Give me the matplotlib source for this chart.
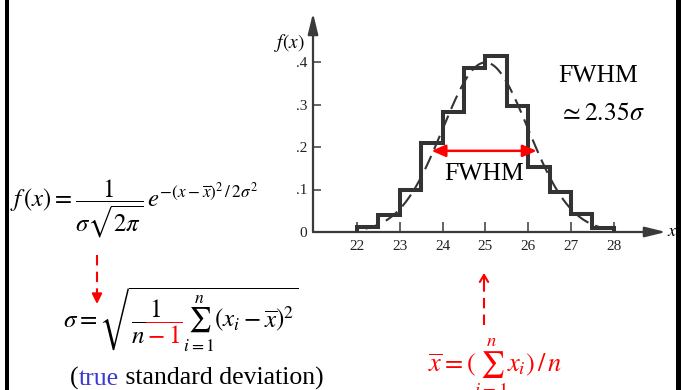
import numpy as np
import matplotlib
matplotlib.use("Agg")
import matplotlib.pyplot as plt
from matplotlib.patches import Rectangle
from matplotlib.lines import Line2D
from matplotlib.text import Annotation
from matplotlib.transforms import IdentityTransform

plt.rcParams['font.family'] = ['Liberation Serif', 'DejaVu Serif']
plt.rcParams['mathtext.fontset'] = 'stix'

# ---- data ----
bin_edges = [22.0, 22.5, 23.0, 23.5, 24.0, 24.5, 25.0, 25.5, 26.0, 26.5, 27.0, 27.5, 28.0]
bin_heights = [0.012, 0.04, 0.10, 0.21, 0.283, 0.385, 0.413, 0.297, 0.152, 0.095, 0.042, 0.01]
gauss_mean = 25.0
gauss_sigma = 1.0
gauss_range = (22.2, 27.8)
x_ticks = [22, 23, 24, 25, 26, 27, 28]
y_ticks = [0, 0.1, 0.2, 0.3, 0.4]
y_tick_labels = ['0', '.1', '.2', '.3', '.4']
fwhm_span = (23.74, 26.2)
fwhm_level = 0.191

W, H = 681, 390
fig = plt.figure(figsize=(W / 100, H / 100), dpi=100)


def P(px, py):
    return px / W, 1 - py / H


# borders
fig.add_artist(Rectangle((5 / W, 0), 3.5 / W, 1, transform=fig.transFigure, color='black', lw=0))
fig.add_artist(Rectangle((676 / W, 0), 5 / W, 1, transform=fig.transFigure, color='black', lw=0))

# ---- axes ----
ax_l, ax_r, ax_b, ax_t = 313, 666, 232, 13
ax = fig.add_axes([ax_l / W, 1 - ax_b / H, (ax_r - ax_l) / W, (ax_b - ax_t) / H])
x0 = 22 - (357 - ax_l) / 42.8
x1 = 22 + (ax_r - 357) / 42.8
ax.set_xlim(x0, x1)
ax.set_ylim(0, (ax_b - ax_t) / 425)
for s in ax.spines.values():
    s.set_visible(False)
ax.patch.set_visible(False)

axis_col = '#3a3a3a'
ax.annotate('', xy=(1, 0), xytext=(0, 0), xycoords='axes fraction',
            arrowprops=dict(arrowstyle='-|>,head_length=0.9,head_width=0.22', lw=1.6,
                            color=axis_col, mutation_scale=14, shrinkA=0, shrinkB=0))
ax.annotate('', xy=(0, 1), xytext=(0, 0), xycoords='axes fraction',
            arrowprops=dict(arrowstyle='-|>,head_length=0.9,head_width=0.22', lw=1.6,
                            color=axis_col, mutation_scale=14, shrinkA=0, shrinkB=0))

ax.set_xticks(x_ticks)
ax.set_xticklabels([str(t) for t in x_ticks])
ax.set_yticks(y_ticks)
ax.set_yticklabels(y_tick_labels)
ax.tick_params(axis='x', direction='in', length=7, width=1.1, color=axis_col, pad=6,
               labelsize=11, labelcolor='#222222')
ax.tick_params(axis='y', direction='in', length=6, width=1.1, color=axis_col, pad=4,
               labelsize=11, labelcolor='#222222')

# histogram outline
ax.stairs(bin_heights, bin_edges, baseline=0, color='#333333', lw=2.9, zorder=3)

# gaussian
gx = np.linspace(gauss_range[0], gauss_range[1], 300)
gy = np.exp(-(gx - gauss_mean) ** 2 / (2 * gauss_sigma ** 2)) / (gauss_sigma * np.sqrt(2 * np.pi))
ax.plot(gx, gy, color='#333333', lw=1.5, ls=(0, (7, 3.5)), zorder=2)

# FWHM arrow
ax.annotate('', xy=(fwhm_span[1], fwhm_level), xytext=(fwhm_span[0], fwhm_level),
            arrowprops=dict(arrowstyle='<|-|>,head_length=0.7,head_width=0.3', lw=1.8,
                            color='red', mutation_scale=12, shrinkA=0, shrinkB=0), zorder=5)

fig.text(*P(444, 180), 'FWHM', fontsize=18.5, ha='left', va='baseline')
fig.text(*P(558, 82), 'FWHM', fontsize=18.5, ha='left', va='baseline')
fig.text(*P(559, 120), r'$\simeq 2.35\sigma$', fontsize=18.5, ha='left', va='baseline')
fig.text(*P(274, 48), r'$f(x)$', fontsize=14, ha='left', va='baseline')
fig.text(*P(667, 236), r'$x$', fontsize=13, ha='left', va='baseline')

# ---- formulas ----
fig.text(*P(10, 207),
         r'$f\,(x) = \dfrac{1}{\sigma\sqrt{2\pi}}\,e^{-(x-\overline{x})^2\,/\,2\sigma^2}$',
         fontsize=17.8, ha='left', va='baseline')

f2 = r'$\sigma = \sqrt{\dfrac{1}{n-1}\sum_{i=1}^{n}(x_i-\overline{x})^2}$'
f2_pos = P(63, 327)
fig.text(*f2_pos, f2, fontsize=18, ha='left', va='baseline', zorder=1)
clip_box = (146, 320, 37, 26)  # px (left, top, w, h)
rect_xy = (clip_box[0], H - clip_box[1] - clip_box[3])
fig.add_artist(Rectangle(rect_xy, clip_box[2], clip_box[3], transform=IdentityTransform(),
                         facecolor='white', edgecolor='none', zorder=2))
t_red = fig.text(*f2_pos, f2, fontsize=18, ha='left', va='baseline', color='red', zorder=3)
t_red.set_clip_path(Rectangle(rect_xy, clip_box[2], clip_box[3], transform=IdentityTransform()))

# (true standard deviation)
t1 = fig.text(*P(70, 385), '(', fontsize=18.5, ha='left', va='baseline')
a_true = fig.add_artist(Annotation('true', xy=(1, 0), xycoords=t1, va='bottom',
                                   fontsize=18.5, color='#3b3bd4'))
a_rest = fig.add_artist(Annotation(' standard deviation)', xy=(1, 0), xycoords=a_true,
                                   va='bottom', fontsize=18.5))

fig.text(*P(428, 371), r'$\overline{x} = (\sum_{i=1}^{n} x_i)\,/\,n$', fontsize=19, color='red',
         ha='left', va='baseline')

# red dashed arrows
fig.add_artist(Line2D([97 / W, 97 / W], [1 - 255 / H, 1 - 296 / H], transform=fig.transFigure,
                      color='red', lw=1.5, ls=(0, (5, 3))))
fig.add_artist(Annotation('', xy=P(97, 304), xytext=P(97, 294), xycoords='figure fraction',
                          arrowprops=dict(arrowstyle='-|>,head_length=0.6,head_width=0.3',
                                          color='red', lw=1.5, mutation_scale=10,
                                          shrinkA=0, shrinkB=0)))
fig.add_artist(Line2D([484 / W, 484 / W], [1 - 325 / H, 1 - 282 / H], transform=fig.transFigure,
                      color='red', lw=1.5, ls=(0, (5, 3))))
fig.add_artist(Annotation('', xy=P(484, 273), xytext=P(484, 283), xycoords='figure fraction',
                          arrowprops=dict(arrowstyle='->,head_length=0.5,head_width=0.3',
                                          color='red', lw=1.5, mutation_scale=10,
                                          shrinkA=0, shrinkB=0)))

fig.savefig('out.png', dpi=100)
